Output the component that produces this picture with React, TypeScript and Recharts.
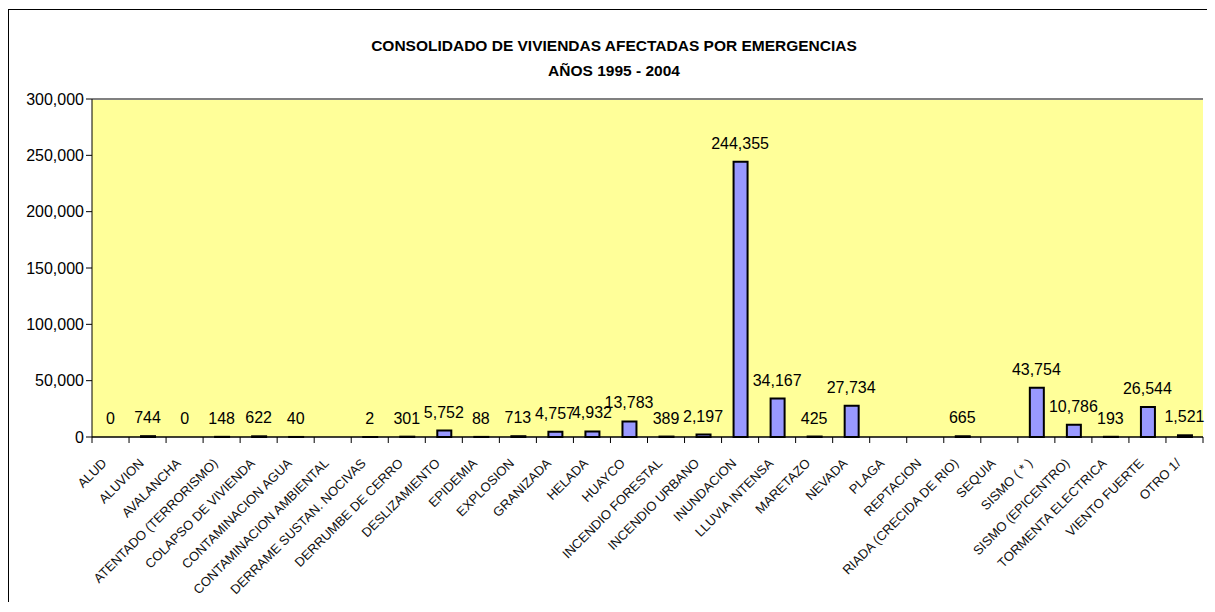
import React from 'react';
import { ComposedChart, Bar, Line, XAxis, YAxis, CartesianGrid, LabelList, ReferenceLine } from 'recharts';

const categories = [
    'ALUD', 'ALUVION', 'AVALANCHA', 'ATENTADO (TERRORISMO)', 'COLAPSO DE VIVIENDA',
    'CONTAMINACION AGUA', 'CONTAMINACION AMBIENTAL', 'DERRAME SUSTAN. NOCIVAS', 'DERRUMBE DE CERRO', 'DESLIZAMIENTO',
    'EPIDEMIA', 'EXPLOSION', 'GRANIZADA', 'HELADA', 'HUAYCO',
    'INCENDIO FORESTAL', 'INCENDIO URBANO', 'INUNDACION', 'LLUVIA INTENSA', 'MARETAZO',
    'NEVADA', 'PLAGA', 'REPTACION', 'RIADA (CRECIDA DE RIO)', 'SEQUIA',
    'SISMO ( * )', 'SISMO (EPICENTRO)', 'TORMENTA ELECTRICA', 'VIENTO FUERTE', 'OTRO  1/',
];

const viviendas: (number | null)[] = [
    0, 744, 0, 148, 622,
    40, null, 2, 301, 5752,
    88, 713, 4757, 4932, 13783,
    389, 2197, 244355, 34167, 425,
    27734, null, null, 665, null,
    43754, 10786, 193, 26544, 1521,
];

const yTicks = [0, 50000, 100000, 150000, 200000, 250000, 300000];

const data = categories.map((name, i) => ({ name, value: viviendas[i] }));

const W = 1199;
const H = 594;
const plotLeft = 84;
const plotRight = 1195;
const band = (plotRight - plotLeft) / categories.length;

const fmt = (v: number) => v.toLocaleString('en-US');

// excel style: tick marks between categories, labels rotated 45deg
const XTick = (props: any) => {
    const { x, y, payload, index } = props;
    return (
        <g>
            <line x1={x - band / 2} x2={x - band / 2} y1={y} y2={y + 6} stroke="#000" />
            {index === categories.length - 1 && (
                <line x1={x + band / 2} x2={x + band / 2} y1={y} y2={y + 6} stroke="#000" />
            )}
            <text
                transform={`translate(${x - 3},${y + 27}) rotate(-45)`}
                textAnchor="end"
                fontSize={13}
                fill="#111"
                fontFamily="'Liberation Sans', Arial, sans-serif"
            >
                {payload.value}
            </text>
        </g>
    );
};

export default function App() {
    return (
        <div style={{ position: 'relative', width: W, height: H }}>
            <div
                style={{
                    position: 'absolute',
                    left: 0,
                    top: 1,
                    width: 1210,
                    height: 600,
                    borderLeft: '1px solid #000',
                    borderTop: '1px solid #000',
                    boxSizing: 'border-box',
                    pointerEvents: 'none',
                }}
            />
            <div
                style={{
                    position: 'absolute',
                    left: 0,
                    top: 25,
                    width: 1212,
                    textAlign: 'center',
                    fontFamily: "'Liberation Sans', Arial, sans-serif",
                    fontWeight: 'bold',
                    fontSize: 15.5,
                    lineHeight: '25px',
                    color: '#000',
                }}
            >
                <div>CONSOLIDADO DE VIVIENDAS AFECTADAS POR EMERGENCIAS</div>
                <div>AÑOS 1995 - 2004</div>
            </div>
            <ComposedChart
                width={W}
                height={H}
                data={data}
                margin={{ top: 91, right: 4, left: 4, bottom: 5 }}
                barSize={14}
                style={{ fontFamily: "'Liberation Sans', Arial, sans-serif" }}
            >
                <CartesianGrid vertical={false} stroke="#000" fill="#FFFF99" fillOpacity={1} />
                <XAxis
                    dataKey="name"
                    interval={0}
                    height={160}
                    tickLine={false}
                    tickSize={0}
                    tickMargin={0}
                    axisLine={{ stroke: '#000' }}
                    tick={<XTick />}
                />
                <YAxis
                    yAxisId="left"
                    width={80}
                    domain={[0, 300000]}
                    ticks={yTicks}
                    tickFormatter={fmt}
                    tickSize={6}
                    tickLine={{ stroke: '#000' }}
                    axisLine={{ stroke: '#000' }}
                    tick={{ fill: '#000', fontSize: 16 }}
                />
                <YAxis
                    yAxisId="right"
                    orientation="right"
                    width={0}
                    domain={[0, 300000]}
                    tick={false}
                    tickLine={false}
                    axisLine={{ stroke: '#808080', strokeWidth: 2 }}
                />
                <ReferenceLine yAxisId="left" y={300000} stroke="#808080" strokeWidth={2} />
                <Bar
                    yAxisId="left"
                    dataKey="value"
                    fill="#9999FF"
                    stroke="#000"
                    strokeWidth={2}
                    isAnimationActive={false}
                />
                {/* invisible series only to carry the value labels (zero bars get none otherwise) */}
                <Line
                    yAxisId="left"
                    dataKey="value"
                    stroke="none"
                    dot={false}
                    activeDot={false}
                    legendType="none"
                    isAnimationActive={false}
                >
                    <LabelList
                        dataKey="value"
                        position="top"
                        offset={13}
                        fill="#000"
                        fontSize={16}
                        formatter={(v: any) => (v == null ? '' : fmt(Number(v)))}
                    />
                </Line>
            </ComposedChart>
        </div>
    );
}
